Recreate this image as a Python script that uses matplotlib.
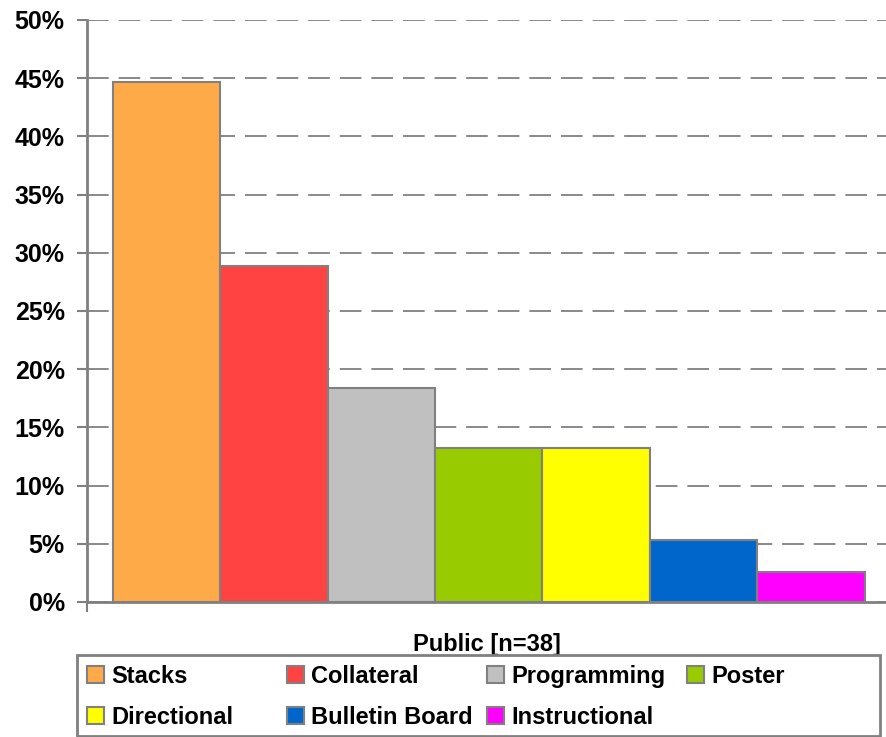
"""Bar chart of signage types, public libraries."""

import matplotlib
matplotlib.use("Agg")
import matplotlib.pyplot as plt
from matplotlib.patches import Patch, Rectangle
from matplotlib.ticker import FuncFormatter, MultipleLocator

categories = ["Stacks", "Collateral", "Programming", "Poster",
              "Directional", "Bulletin Board", "Instructional"]
shares = [44.7, 28.9, 18.4, 13.2, 13.2, 5.3, 2.6]
colors = ["#FFAA48", "#FF4242", "#C0C0C0", "#99CC00",
          "#FFFF00", "#0066CC", "#FF00FF"]
group_label = "Public [n=38]"

plt.rcParams["font.family"] = ["Liberation Sans", "DejaVu Sans"]
plt.rcParams["font.weight"] = "bold"

W, H = 886, 737
edge = "#808080"
fig = plt.figure(figsize=(W / 100, H / 100), dpi=100)
ax = fig.add_axes([0.0982, 0.1832, 0.9018, 0.7897])

xs = range(len(categories))
ax.bar(xs, shares, width=1.0, color=colors, edgecolor=edge, linewidth=1.5,
       zorder=3)

left, right = -0.742, len(categories) - 0.5 + 0.2
ax.set_xlim(left, right)
ax.set_ylim(0, 50)

# y axis
ax.yaxis.set_major_locator(MultipleLocator(5))
ax.yaxis.set_major_formatter(FuncFormatter(lambda v, _: f"{v:.0f}%"))
ax.grid(axis="y", color=edge, linestyle=(0, (12, 5.5)), linewidth=1.3,
        zorder=0)
ax.tick_params(axis="y", direction="out", length=7, width=1.5, color=edge,
               pad=9, labelsize=18)
for lab in ax.get_yticklabels():
    lab.set_fontweight("bold")

# x axis: single category tick at the left boundary
ax.set_xticks([left])
ax.set_xticklabels([""])
ax.tick_params(axis="x", direction="out", length=7, width=1.5, color=edge)
ax.set_xlabel(group_label, fontsize=17, fontweight="bold", labelpad=12)

for side in ["top", "right"]:
    ax.spines[side].set_visible(False)
for side in ["left", "bottom"]:
    ax.spines[side].set_color(edge)
    ax.spines[side].set_linewidth(2)
ax.spines["bottom"].set_zorder(4)

# legend: frame plus four equally spaced columns, filled row by row
fig.add_artist(Rectangle((77 / W, 1.5 / H), 803 / W, (737 - 655 - 1.5) / H,
                         transform=fig.transFigure, facecolor="white",
                         edgecolor=edge, linewidth=2, zorder=1))
columns = [[0, 4], [1, 5], [2, 6], [3]]
col_x = [87, 287, 487, 687]
for items, x in zip(columns, col_x):
    handles = [Patch(facecolor=colors[i], edgecolor=edge, linewidth=1.5)
               for i in items]
    leg = fig.legend(handles, [categories[i] for i in items], ncol=1,
                     loc="upper left", bbox_to_anchor=(x / W, 1 - 665 / H),
                     frameon=False, prop={"weight": "bold", "size": 17},
                     handlelength=0.72, handleheight=0.72, handletextpad=0.3,
                     labelspacing=0.75, borderpad=0.0, borderaxespad=0.0)
    leg.set_zorder(2)

fig.savefig("out.png", dpi=100)
